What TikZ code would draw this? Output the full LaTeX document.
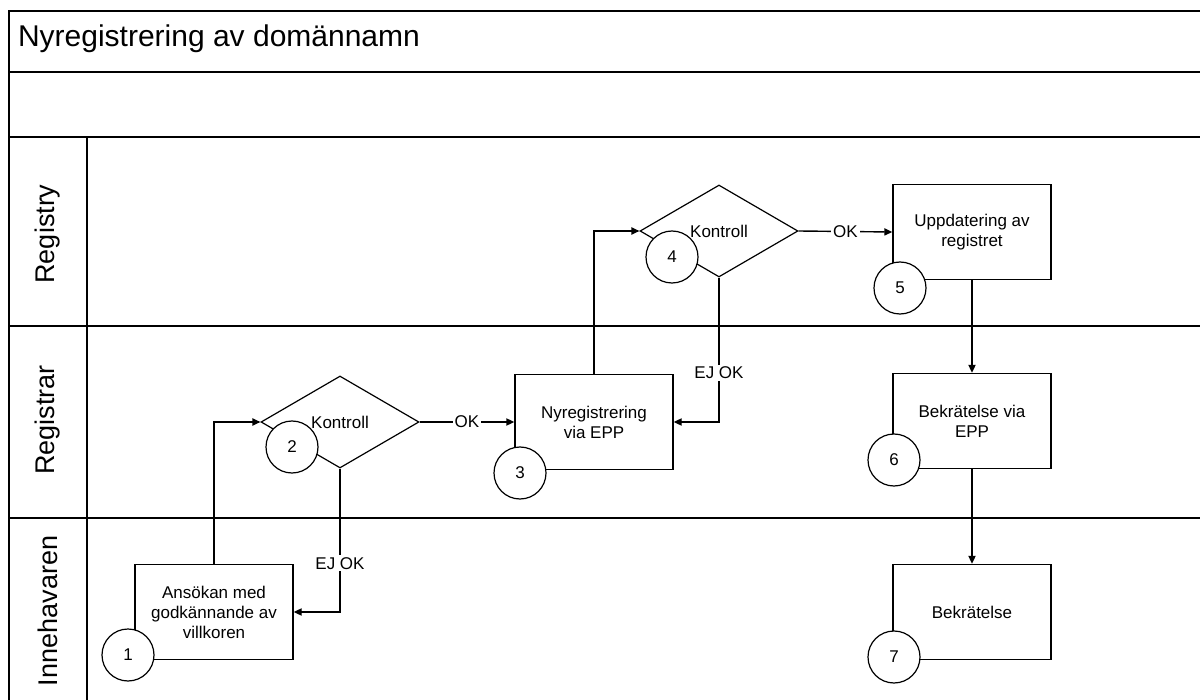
\documentclass[tikz,border=0pt]{standalone}
\usepackage{fontspec}
\setmainfont{Liberation Sans}
\usetikzlibrary{shapes.geometric,arrows.meta,positioning}

\begin{document}
\begin{tikzpicture}[x=0.5pt,y=-0.5pt,
    box/.style={draw,line width=0.7pt,fill=white,minimum width=79pt,minimum height=47.5pt,inner sep=1pt,align=center,font=\fontsize{8.5}{10}\selectfont},
    choice/.style={draw,diamond,line width=0.6pt,fill=white,minimum width=79pt,minimum height=46pt,inner sep=0pt,font=\fontsize{8.5}{10}\selectfont},
    num/.style={draw,circle,line width=0.6pt,fill=white,minimum size=26pt,inner sep=0pt,font=\fontsize{8.5}{10}\selectfont},
    flow/.style={line width=0.7pt,-{Triangle[length=4pt,width=3.6pt]}},
    lbl/.style={fill=white,inner sep=1pt,font=\fontsize{8.5}{10}\selectfont},
    lane/.style={rotate=90,font=\fontsize{13.5}{16}\selectfont}]
    \useasboundingbox (0,0) rectangle (1200,700);

    % Frame and swimlanes
    \draw[line width=0.9pt] (9,700) -- (9,11) -- (1200,11);
    \foreach \y in {72,137,326,518} \draw[line width=0.9pt] (9,\y) -- (1200,\y);
    \draw[line width=0.9pt] (87,137) -- (87,700);
    \node[anchor=base west,font=\fontsize{15}{18}\selectfont] (title) at (11,47) {Nyregistrering av domännamn};
    \node[lane] (registry) at (48,234) {Registry};
    \node[lane] (registrar) at (48,420) {Registrar};
    \node[lane] (innehavaren) at (48,611) {Innehavaren};

    % Steps
    \node[box] (ansokan) at (214,612) {Ansökan med\\godkännande av\\villkoren};
    \node[choice] (kontroll1) at (340,422) {Kontroll};
    \node[box] (nyreg) at (594,422) {Nyregistrering\\via EPP};
    \node[choice] (kontroll2) at (719,231) {Kontroll};
    \node[box] (uppdatering) at (972,232) {Uppdatering av\\registret};
    \node[box] (bekrepp) at (972,421) {Bekrätelse via\\EPP};
    \node[box] (bekr) at (972,612) {Bekrätelse};

    % Step numbers
    \node[num] (n1) at (128,655) {1};
    \node[num] (n2) at (292,447) {2};
    \node[num] (n3) at (520,473) {3};
    \node[num] (n4) at (672,257) {4};
    \node[num] (n5) at (900,288) {5};
    \node[num] (n6) at (894,460) {6};
    \node[num] (n7) at (894,657) {7};

    % Flow
    \draw[flow] (ansokan.north) |- (kontroll1.west);
    \draw[flow] (kontroll1.east) -- node[lbl] {OK} (nyreg.west);
    \draw[flow] (kontroll1.south) |- node[lbl,pos=0.33] {EJ OK} (ansokan.east);
    \draw[flow] (nyreg.north) |- (kontroll2.west);
    \draw[flow] (kontroll2.east) -- node[lbl] {OK} (uppdatering.west);
    \draw[flow] (kontroll2.south) |- node[lbl,pos=0.33] {EJ OK} (nyreg.east);
    \draw[flow] (uppdatering.south) -- (bekrepp.north);
    \draw[flow] (bekrepp.south) -- (bekr.north);
\end{tikzpicture}
\end{document}
